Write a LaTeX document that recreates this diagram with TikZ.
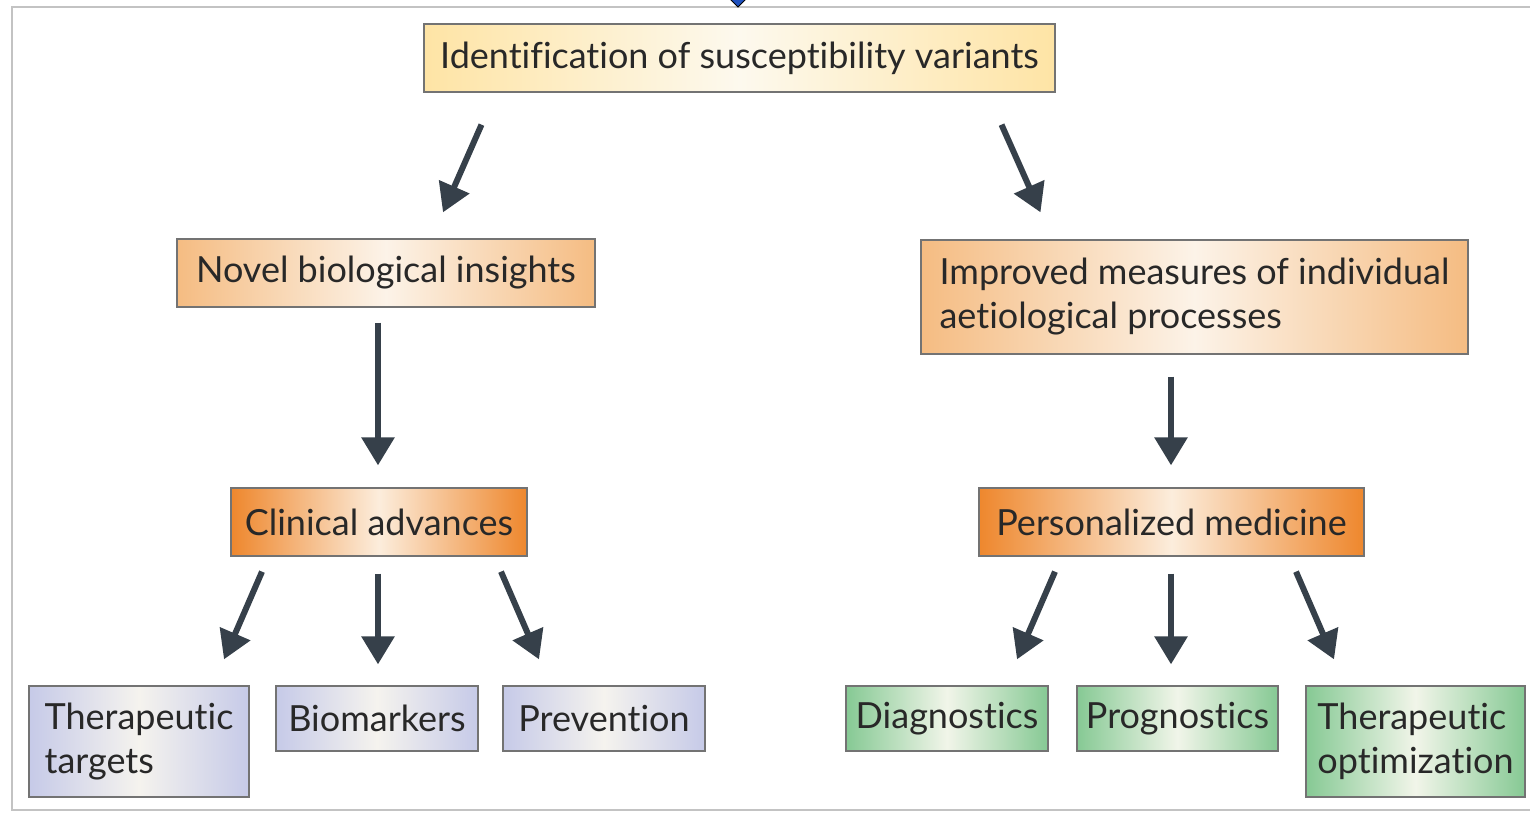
\documentclass[tikz,border=0pt]{standalone}
\usepackage{fontspec}
\setmainfont{Lato}[Ligatures=CommonOff]
\usetikzlibrary{
  arrows.meta,
  positioning,
  calc
}
\definecolor{slate}{RGB}{54,64,74}
\definecolor{inkgray}{RGB}{40,40,40}
\definecolor{framegray}{RGB}{195,195,195}
\definecolor{paleyellow}{RGB}{254,228,165}
\definecolor{creamwhite}{RGB}{253,249,238}
\definecolor{peach}{RGB}{245,188,130}
\definecolor{peachwhite}{RGB}{252,243,232}
\definecolor{deeporange}{RGB}{238,135,45}
\definecolor{orangewhite}{RGB}{252,237,220}
\definecolor{lavender}{RGB}{198,202,232}
\definecolor{lavwhite}{RGB}{245,243,238}
\definecolor{leaf}{RGB}{134,201,148}
\definecolor{leafwhite}{RGB}{241,245,233}
\definecolor{markblue}{RGB}{30,80,190}

\tikzset{
  box/.style={draw=black!55, line width=1.3pt, text=inkgray, inner xsep=4pt, inner ysep=0pt,
    minimum height=68pt, font=\fontsize{36}{44}\selectfont},
  topfill/.style={left color=paleyellow, right color=paleyellow, middle color=creamwhite},
  midfill/.style={left color=peach, right color=peach, middle color=peachwhite},
  hotfill/.style={left color=deeporange, right color=deeporange, middle color=orangewhite},
  bluefill/.style={left color=lavender, right color=lavender, middle color=lavwhite},
  greenfill/.style={left color=leaf, right color=leaf, middle color=leafwhite},
  arrow/.style={draw=slate, line width=6pt, -{Triangle[length=28pt,width=32pt]}}
}

\begin{document}
\begin{tikzpicture}[x=1pt, y=-1pt]
            \useasboundingbox (0,0) rectangle (1530,812);
            % frame and marker
            \draw[framegray, line width=1.5pt] (1530,7) -- (12,7) -- (12,810) -- (1530,810);
            \filldraw[fill=markblue, draw=black, line width=1pt] (729,-2) -- (738,7) -- (747,-2) -- cycle;

            % top
            \node[box, topfill, minimum width=631pt] (ident) at (739.5,58) {Identification of susceptibility variants};

            % second level
            \node[box, midfill, minimum width=418pt] (novel) at (386,273) {Novel biological insights};
            \node[box, midfill, minimum width=547pt, minimum height=114pt, align=left] (improved) at (1194.5,297) {Improved measures of individual\\aetiological processes};

            % third level
            \node[box, hotfill, minimum width=296pt] (clinical) at (379,522) {Clinical advances};
            \node[box, hotfill, minimum width=385pt] (personal) at (1171.5,522) {Personalized medicine};

            % leaves
            \node[box, bluefill, minimum width=220pt, minimum height=111pt, align=left] (targets) at (139,741.5) {Therapeutic\\targets};
            \node[box, bluefill, minimum width=202pt, minimum height=65pt] (biomark) at (377,718.5) {Biomarkers};
            \node[box, bluefill, minimum width=202pt, minimum height=65pt] (prevent) at (604,718.5) {Prevention};
            \node[box, greenfill, minimum width=202pt, minimum height=65pt] (diagnost) at (947,718.5) {Diagnostics};
            \node[box, greenfill, minimum width=201pt, minimum height=65pt] (prognost) at (1177.5,718.5) {Prognostics};
            \node[box, greenfill, minimum width=219pt, minimum height=111pt, align=left] (optimis) at (1415.5,741.5) {Therapeutic\\optimization};

            % arrows
            \draw[arrow] ([xshift=-258pt,yshift=-32pt]ident.south) -- ([xshift=57pt,yshift=26pt]novel.north);
            \draw[arrow] ([xshift=262pt,yshift=-32pt]ident.south) -- ([xshift=-154pt,yshift=27pt]improved.north);
            \draw[arrow] ([xshift=-8pt,yshift=-15pt]novel.south) -- ([xshift=-1pt,yshift=22pt]clinical.north);
            \draw[arrow] ([xshift=-23.5pt,yshift=-22pt]improved.south) -- ([xshift=-0.5pt,yshift=22pt]personal.north);
            \draw[arrow] ([xshift=-117pt,yshift=-15pt]clinical.south) -- ([xshift=85pt,yshift=26pt]targets.north);
            \draw[arrow] ([xshift=-1pt,yshift=-17pt]clinical.south) -- ([xshift=1pt,yshift=21pt]biomark.north);
            \draw[arrow] ([xshift=122pt,yshift=-15pt]clinical.south) -- ([xshift=-65pt,yshift=26pt]prevent.north);
            \draw[arrow] ([xshift=-116.5pt,yshift=-15pt]personal.south) -- ([xshift=70pt,yshift=26pt]diagnost.north);
            \draw[arrow] ([xshift=-0.5pt,yshift=-17pt]personal.south) -- ([xshift=-6.5pt,yshift=21pt]prognost.north);
            \draw[arrow] ([xshift=124.5pt,yshift=-15pt]personal.south) -- ([xshift=-81.5pt,yshift=26pt]optimis.north);
\end{tikzpicture}
\end{document}
